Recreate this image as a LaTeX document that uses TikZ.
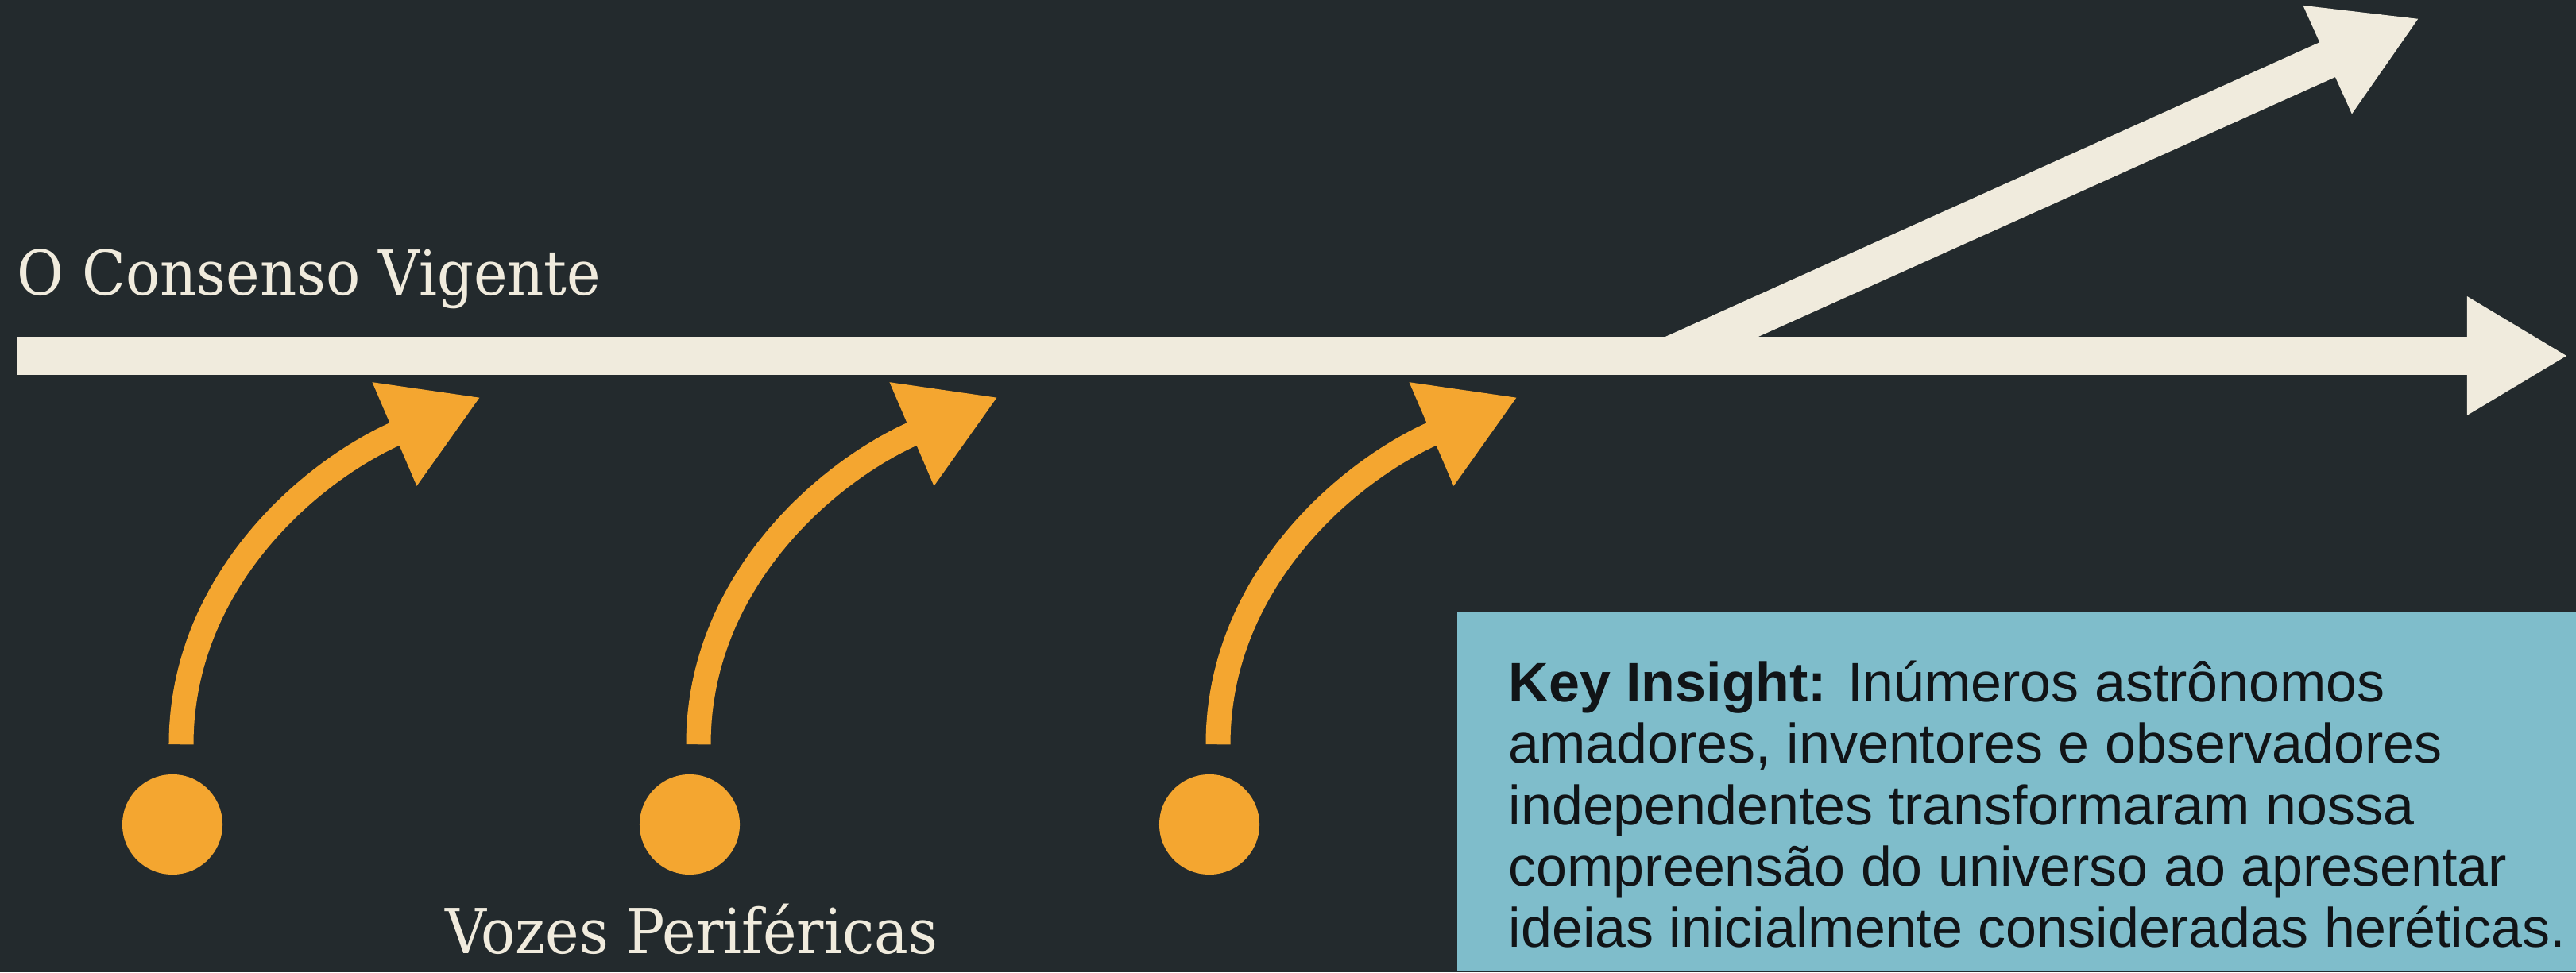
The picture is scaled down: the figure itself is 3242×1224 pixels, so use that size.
\documentclass[tikz,border=0pt]{standalone}
\usepackage{fontspec}
\usetikzlibrary{arrows.meta}

\newfontfamily\slabfont[FakeStretch=0.92]{DejaVu Serif}
\newfontfamily\boxfont{Liberation Sans}

\definecolor{bgdark}{HTML}{232A2D}
\definecolor{cream}{HTML}{F0EBDD}
\definecolor{amber}{HTML}{F4A630}
\definecolor{insightblue}{HTML}{7FBDCB}
\definecolor{ink}{HTML}{111417}

\tikzset{
	mainarrow/.style={draw=cream, line width=0.48cm, -{Triangle[length=1.27cm,width=1.40cm]}},
	voicearrow/.style={draw=amber, line width=0.31cm, -{Triangle[length=1.18cm,width=1.33cm]}},
	voicedot/.style={circle, fill=amber, minimum size=1.26cm, inner sep=0pt},
	slabtext/.style={text=cream, inner sep=0pt, font=\slabfont\fontsize{22.2}{26}\selectfont}
}

\begin{document}
\begin{tikzpicture}[x=0.01cm,y=0.01cm]
			\fill[bgdark] (0,0) rectangle (3242,1224);
			\useasboundingbox (0,0) rectangle (3242,1224);
			\node[slabtext, anchor=base west] (consensus) at (21,852) {O Consenso Vigente};
			\coordinate (barstart) at (21,776);
			\coordinate (barend) at (3232,776);
			\coordinate (fork) at (2101,776);
			\coordinate (rise) at (3045,1201);
			\draw[mainarrow] (fork) -- (rise);
			\draw[mainarrow] (barstart) -- (barend);
			\node[voicedot] (v1) at (217,186) {};
			\node[voicedot] (v2) at (868,186) {};
			\node[voicedot] (v3) at (1522,186) {};
			\foreach \i in {1,2,3}
				\draw[voicearrow] ([shift={(11,37)}]v\i.north) .. controls +(0,208) and +(-210,-90) .. ([shift={(388,538)}]v\i.center);
			\node[slabtext, anchor=base] (periphery) at (870,24) {Vozes Periféricas};
			\node[fill=insightblue, anchor=south west, minimum width=14.09cm, minimum height=4.52cm, inner sep=0pt] (insight) at (1833,0) {};
			\node[anchor=base west, inner sep=0pt, text=ink, font=\boxfont\fontsize{19.9}{22}\selectfont] (insighttext) at ([shift={(65,-113)}]insight.north west) {\begin{tabular}[t]{@{}l@{}}\textbf{Key Insight:} Inúmeros astrônomos\\
				amadores, inventores e observadores\\
				independentes transformaram nossa\\
				compreensão do universo ao apresentar\\
				ideias inicialmente consideradas heréticas.\end{tabular}};
		\end{tikzpicture}
\end{document}
